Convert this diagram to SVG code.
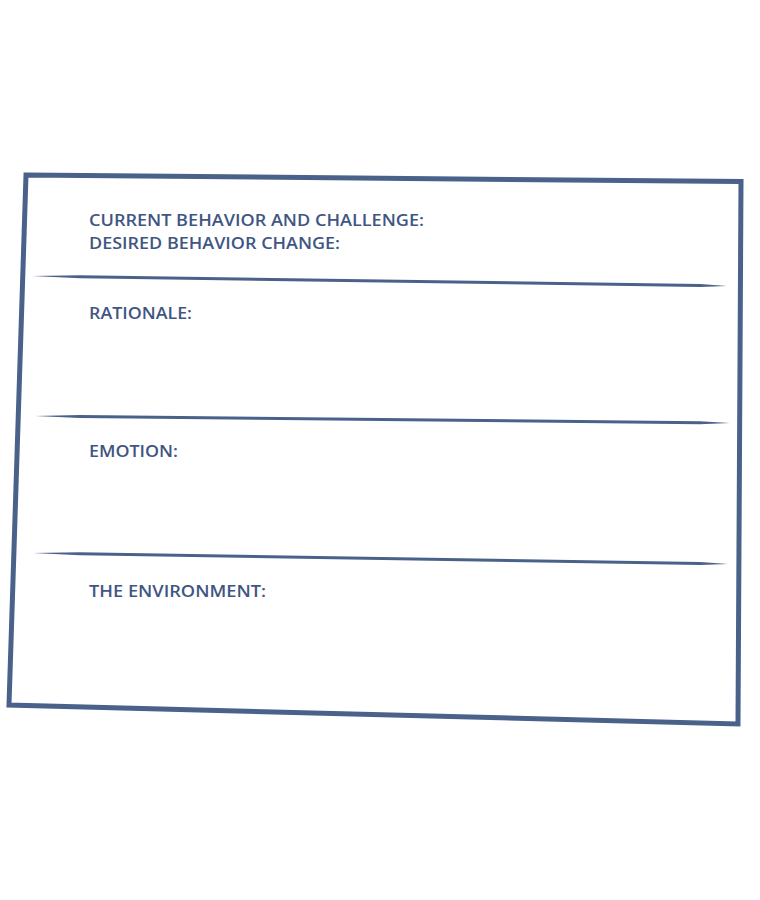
<svg xmlns="http://www.w3.org/2000/svg" width="760" height="900" viewBox="0 0 760 900">
<style>
.ink{fill:#4a6189}
.frame{fill:none;stroke:#4a6189;stroke-width:5;stroke-linejoin:miter}
.lbl{font-family:"Open Sans","Liberation Sans",sans-serif;font-weight:600;font-size:16.5px;fill:#3f5683}
</style>
<rect width="760" height="900" fill="#ffffff"/>
<g id="frame">
<path class="frame" d="M26,175 L741,181.5 L738,724 L9,705 Z"/>
</g>
<g id="dividers">
<path class="ink" d="M32,276 L80,275.2 L700,284.1 L727,286 L700,287.1 L80,278.2 Z"/>
<path class="ink" d="M35,416 L80,415 L700,421.2 L730,423 L700,424.2 L80,418 Z"/>
<path class="ink" d="M33,553 L80,552.2 L700,562 L728,564 L700,565 L80,555.2 Z"/>
</g>
<g id="section-behavior">
<text class="lbl" x="89" y="226" textLength="335" lengthAdjust="spacingAndGlyphs">CURRENT BEHAVIOR AND CHALLENGE:</text>
<text class="lbl" x="89" y="249" textLength="251" lengthAdjust="spacingAndGlyphs">DESIRED BEHAVIOR CHANGE:</text>
</g>
<g id="section-rationale">
<text class="lbl" x="89" y="319" textLength="103" lengthAdjust="spacingAndGlyphs">RATIONALE:</text>
</g>
<g id="section-emotion">
<text class="lbl" x="89" y="457" textLength="89" lengthAdjust="spacingAndGlyphs">EMOTION:</text>
</g>
<g id="section-environment">
<text class="lbl" x="89" y="597" textLength="177" lengthAdjust="spacingAndGlyphs">THE ENVIRONMENT:</text>
</g>
</svg>
